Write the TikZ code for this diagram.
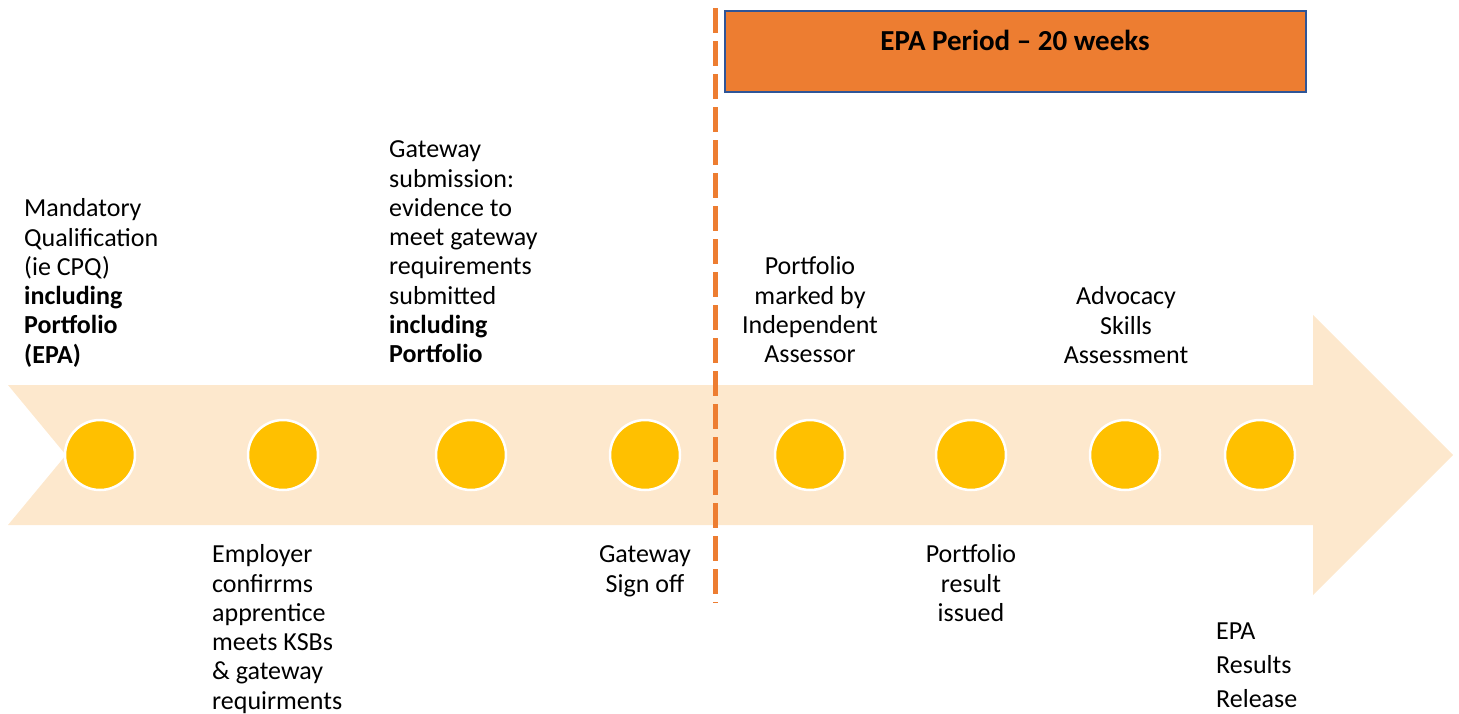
\documentclass[tikz,border=0pt]{standalone}
\usepackage{fontspec}
\setmainfont{Carlito}
\usetikzlibrary{positioning}
\definecolor{peach}{HTML}{FDE8CD}
\definecolor{gold}{HTML}{FFC000}
\definecolor{epaorange}{HTML}{ED7D31}
\definecolor{epablue}{HTML}{2F5597}

\begin{document}
\begin{tikzpicture}[x=1pt,y=-1pt,
    dot/.style={circle, fill=gold, draw=white, line width=2.5pt, minimum size=70pt, inner sep=0pt},
    stagetext/.style={inner sep=0pt, font=\fontsize{26}{29.3}\selectfont}]
    \useasboundingbox (0,0) rectangle (1459,713);

    % timeline arrow
    \fill[peach] (8,385) -- (1313,385) -- (1313,315) -- (1453,455) -- (1313,595)
        -- (1313,525) -- (8,525) -- (66,455) -- cycle;

    % milestones
    \foreach \x [count=\i] in {100,283,471,645,810,971,1125,1260}
        \node[dot] (m\i) at (\x,455) {};

    % gateway line and EPA period
    \coordinate (gtop) at (715,8);
    \coordinate (gbot) at (715,603);
    \draw[epaorange, line width=5pt, dash pattern=on 25pt off 8pt] (gtop) -- (gbot);

    \node[draw=epablue, fill=epaorange, line width=1.5pt, minimum width=581pt, minimum height=81pt,
        anchor=north west] (epa) at (724,10) {};
    \node[inner sep=0pt, font=\fontsize{29}{32}\selectfont\bfseries] (epatext) at (1015,40) {EPA Period – 20 weeks};

    % texts above
    \node[stagetext, align=left, anchor=north west] (t1) at (24,196)
        {\strut Mandatory\\Qualification\\(ie CPQ)\\\textbf{including}\\\textbf{Portfolio}\\\textbf{(EPA)}};
    \node[stagetext, align=left, anchor=north west] (t3) at (389,137)
        {\strut Gateway\\submission:\\evidence to\\meet gateway\\requirements\\submitted\\\textbf{including}\\\textbf{Portfolio}};
    \node[stagetext, align=center, anchor=north] (t5) at (810,254)
        {\strut Portfolio\\marked by\\Independent\\Assessor};
    \node[stagetext, align=center, anchor=north] (t7) at (1126,284)
        {\strut Advocacy\\Skills\\Assessment};

    % texts below
    \node[stagetext, align=left, anchor=north west] (t2) at (212,542)
        {\strut Employer\\confirrms\\apprentice\\meets KSBs\\\& gateway\\requirments};
    \node[stagetext, align=center, anchor=north] (t4) at (645,542)
        {\strut Gateway\\Sign off};
    \node[stagetext, align=center, anchor=north] (t6) at (971,542)
        {\strut Portfolio\\result\\issued};
    \node[stagetext, font=\fontsize{26}{34}\selectfont, align=left, anchor=north west] (t8) at (1216,615.5)
        {\strut EPA\\Results\\Release};
\end{tikzpicture}
\end{document}
